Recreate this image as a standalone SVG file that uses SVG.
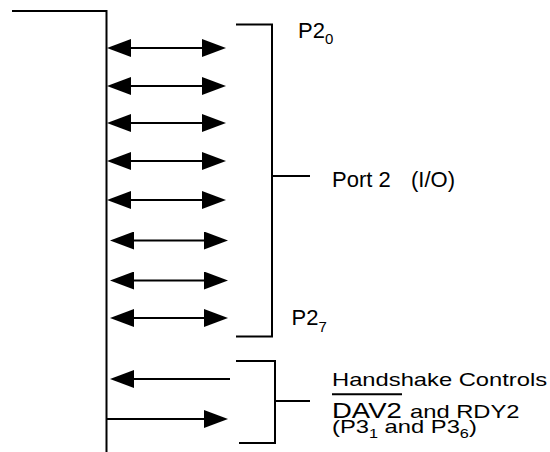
<svg xmlns="http://www.w3.org/2000/svg" width="550" height="452" viewBox="0 0 550 452">
<style>
.ln{fill:none;stroke:#000;stroke-width:2}
.t{font-family:"Liberation Sans",Arial,sans-serif;fill:#000}
</style>
<defs>
<marker id="ah" markerUnits="userSpaceOnUse" markerWidth="24" markerHeight="18" viewBox="0 0 24 18" refX="0" refY="9" orient="auto-start-reverse">
<path d="M0,0 L24,9 L0,18 Z" fill="#000"/>
</marker>
</defs>
<rect width="550" height="452" fill="#fff"/>
<g id="bus">
<polyline class="ln" points="12,11 106.5,11 106.5,452"/>
</g>
<g id="connectors">
<line class="ln" x1="131" y1="48" x2="202" y2="48" marker-start="url(#ah)" marker-end="url(#ah)"/>
<line class="ln" x1="131" y1="86" x2="202" y2="86" marker-start="url(#ah)" marker-end="url(#ah)"/>
<line class="ln" x1="131" y1="123" x2="202" y2="123" marker-start="url(#ah)" marker-end="url(#ah)"/>
<line class="ln" x1="131" y1="161" x2="202" y2="161" marker-start="url(#ah)" marker-end="url(#ah)"/>
<line class="ln" x1="131" y1="200" x2="202" y2="200" marker-start="url(#ah)" marker-end="url(#ah)"/>
<line class="ln" x1="134" y1="240.5" x2="204" y2="240.5" marker-start="url(#ah)" marker-end="url(#ah)"/>
<line class="ln" x1="134" y1="280.5" x2="204" y2="280.5" marker-start="url(#ah)" marker-end="url(#ah)"/>
<line class="ln" x1="134" y1="318" x2="204" y2="318" marker-start="url(#ah)" marker-end="url(#ah)"/>
<line class="ln" x1="230" y1="379" x2="134" y2="379" marker-end="url(#ah)"/>
<line class="ln" x1="107" y1="419" x2="204" y2="419" marker-end="url(#ah)"/>
</g>
<g id="port2">
<polyline class="ln" points="236,24.5 272,24.5 272,336.5 236,336.5"/>
<line class="ln" x1="272" y1="176" x2="310" y2="176"/>
<text class="t" x="298" y="38" font-size="22">P2<tspan font-size="15" dy="6">0</tspan></text>
<text class="t" x="332" y="187" font-size="22">Port 2<tspan x="411">(I/O)</tspan></text>
<text class="t" x="291.5" y="325" font-size="22">P2<tspan font-size="15" dy="7">7</tspan></text>
</g>
<g id="handshake">
<polyline class="ln" points="236,361 275,361 275,443 239,443"/>
<line class="ln" x1="275" y1="401" x2="310" y2="401"/>
<line class="ln" x1="332" y1="394.3" x2="402" y2="394.3"/>
<g transform="translate(332 0) scale(1.25 1)">
<text class="t" font-size="19"><tspan x="0" y="386">Handshake Controls</tspan><tspan x="0" y="418" font-size="22">DAV2</tspan><tspan x="62.4" y="418">and RDY2</tspan><tspan x="0" y="433">(P3</tspan><tspan font-size="13" dy="5">1</tspan><tspan dy="-5"> and P3</tspan><tspan font-size="13" dy="5">6</tspan><tspan dy="-5">)</tspan></text>
</g>
</g>
</svg>
